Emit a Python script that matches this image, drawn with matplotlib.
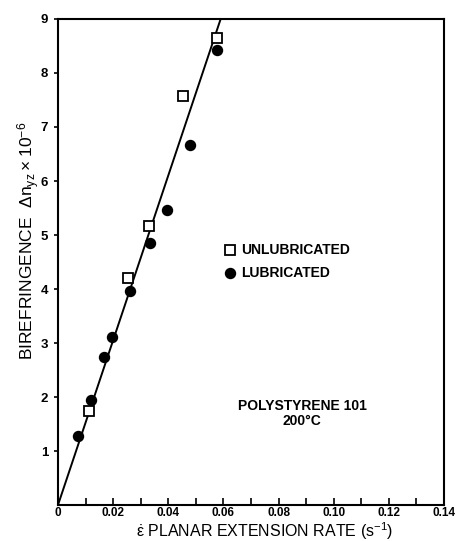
import matplotlib
matplotlib.use("Agg")
import matplotlib.pyplot as plt
import numpy as np

# Data
unlub_x = [0.0112, 0.0255, 0.0330, 0.0455, 0.0576]
unlub_y = [1.75, 4.20, 5.17, 7.58, 8.65]
lub_x = [0.0073, 0.0120, 0.0167, 0.0196, 0.0260, 0.0334, 0.0397, 0.0480, 0.0576]
lub_y = [1.27, 1.95, 2.75, 3.12, 3.97, 4.85, 5.47, 6.67, 8.43]
fit_x = [0.0, 0.0590]
fit_y = [0.0, 9.0]
x_ticks = [0, 0.02, 0.04, 0.06, 0.08, 0.10, 0.12, 0.14]
x_ticklabels = ["0", "0.02", "0.04", "0.06", "0.08", "0.10", "0.12", "0.14"]
y_ticks = [1, 2, 3, 4, 5, 6, 7, 8, 9]

plt.rcParams['font.family'] = ['Liberation Sans', 'DejaVu Sans']
plt.rcParams['mathtext.default'] = 'regular'

fig = plt.figure(figsize=(4.58, 5.41), dpi=100)
ax = fig.add_axes([0.1266, 0.0665, 0.8428, 0.8984])

ax.plot(fit_x, fit_y, color='black', lw=1.4, zorder=2)
ax.plot(lub_x, lub_y, 'o', color='black', ms=7.2, zorder=3)
ax.plot(unlub_x, unlub_y, 's', mfc='white', mec='black', mew=1.3, ms=6.5, zorder=4)

ax.set_xlim(0, 0.14)
ax.set_ylim(0, 9)
ax.set_xticks(x_ticks)
ax.set_xticklabels(x_ticklabels, fontsize=8.5, fontweight='bold')
ax.set_xticks(np.arange(0.01, 0.14, 0.02), minor=True)
ax.set_yticks(y_ticks)
ax.set_yticklabels([str(v) for v in y_ticks], fontsize=9.5, fontweight='bold')
ax.tick_params(axis='x', which='both', direction='in', length=5, width=1.2, pad=1.5)
ax.tick_params(axis='y', which='both', direction='out', length=3, width=1.2, pad=4)
for s in ax.spines.values():
    s.set_linewidth(1.5)

# legend
ax.plot([0.0625], [4.72], 's', mfc='white', mec='black', mew=1.3, ms=6.5)
ax.plot([0.0625], [4.30], 'o', color='black', ms=7.2)
ax.text(0.0665, 4.72, "UNLUBRICATED", fontsize=10, fontweight='bold', va='center')
ax.text(0.0665, 4.30, "LUBRICATED", fontsize=10, fontweight='bold', va='center')

ax.text(0.0885, 1.70, "POLYSTYRENE 101\n200°C", fontsize=10, fontweight='bold',
        ha='center', va='center', linespacing=1.1)

fig.text(0.578, 0.019, r"$\dot{\varepsilon}$ PLANAR EXTENSION RATE (s$^{-1}$)",
         fontsize=11.5, ha='center', va='center')
fig.text(0.062, 0.555, r"BIREFRINGENCE  $\Delta n_{yz} \times 10^{-6}$",
         fontsize=12.5, ha='center', va='center', rotation=90)

fig.savefig("out.png", dpi=100)
